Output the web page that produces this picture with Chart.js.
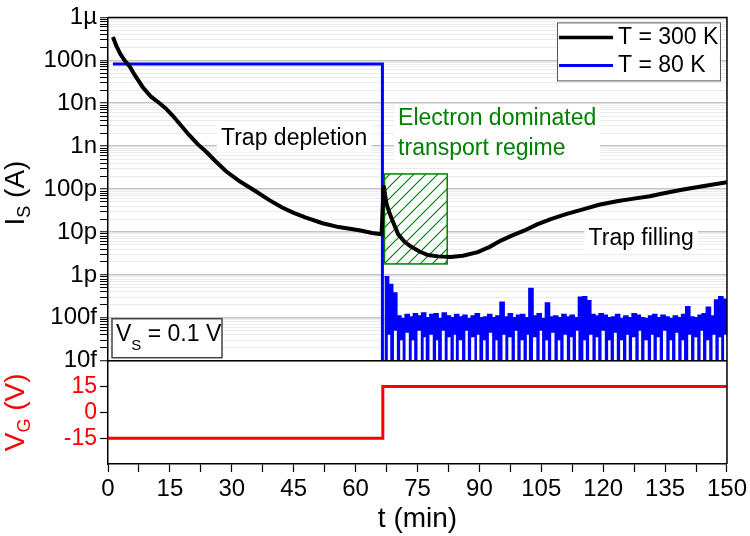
<!DOCTYPE html>
<html>
<head>
<meta charset="utf-8">
<script src="https://cdn.jsdelivr.net/npm/chart.js@4.4.0/dist/chart.umd.min.js"></script>
<style>
  html, body { margin: 0; padding: 0; background: #fff; }
  #wrap { width: 750px; height: 536px; }
</style>
</head>
<body>
<div id="wrap"><canvas id="chart" width="750" height="536"></canvas></div>
<script>
// I_S(t) at 300 K (black)
const t300 = [1.2, 2, 3, 4, 5.3, 6.5, 8.5, 10.5, 12.5, 14, 15.7, 17.5, 19.7, 21.8, 23.8, 26, 28.6, 32, 35.8, 39, 42.2, 45, 47.8, 52, 55.9, 59, 61.5, 64, 66.3,
              66.8, 67.5, 68.2, 69.2, 70.3, 71.8, 73.5, 75.5, 77.5, 80, 83.1, 86, 89.6, 92.5, 95.2, 98, 100.8, 104, 107.3, 111, 115.3, 119, 123.3, 127, 131.3, 135, 139.4, 143, 147, 150];
const is300 = [3.5e-7, 2.2e-7, 1.4e-7, 1.0e-7, 7.1e-8, 4.5e-8, 2.3e-8, 1.4e-8, 1.0e-8, 7.6e-9, 5.1e-9, 3.2e-9, 1.8e-9, 1.1e-9, 7.4e-10, 4.5e-10, 2.6e-10, 1.5e-10, 8.9e-11, 5.6e-11, 3.7e-11, 2.8e-11, 2.2e-11, 1.6e-11, 1.3e-11, 1.17e-11, 1.07e-11, 9.5e-12, 8.9e-12,
               1.2e-10, 4.5e-11, 2.8e-11, 1.6e-11, 8.9e-12, 6.0e-12, 4.5e-12, 3.5e-12, 2.9e-12, 2.7e-12, 2.6e-12, 2.8e-12, 3.4e-12, 4.5e-12, 6.3e-12, 8.3e-12, 1.07e-11, 1.5e-11, 2.0e-11, 2.6e-11, 3.4e-11, 4.3e-11, 5.2e-11, 5.9e-11, 6.8e-11, 8.1e-11, 9.8e-11, 1.12e-10, 1.29e-10, 1.45e-10];

// I_S(t) at 80 K (blue): constant level, then drop at the gate switch
const t80 = [1.2, 66.5, 66.5];
const is80 = [8.2e-8, 8.2e-8, 1e-14];

// 80 K noise after the switch: upper edge of the band
const tNoise = [67, 68, 69, 70, 71, 72, 73, 74, 75, 76, 77, 78, 79, 80, 81, 82, 83, 84, 85, 86, 87, 88, 89, 90, 91, 92, 93, 94, 95, 96, 97, 98, 99, 100,
                101, 102, 103, 104, 105, 106, 107, 108, 109, 110, 111, 112, 113, 114, 115, 116, 117, 118, 119, 120, 121, 122, 123, 124, 125, 126, 127, 128, 129, 130,
                131, 132, 133, 134, 135, 136, 137, 138, 139, 140, 141, 142, 143, 144, 145, 146, 147, 148, 149, 150];
const noiseTop = [9e-13, 6e-13, 3.8e-13, 1.1e-13, 9.5e-14, 1.2e-13, 1.05e-13, 1.25e-13, 1.1e-13, 1.3e-13, 1.0e-13, 1.2e-13, 1.25e-13, 9.5e-14, 1.3e-13, 1.1e-13, 1.0e-13, 1.2e-13, 1.05e-13, 1.15e-13,
                  9.5e-14, 1.1e-13, 1.25e-13, 1.0e-13, 1.05e-13, 1.2e-13, 1.0e-13, 1.1e-13, 2.3e-13, 1.05e-13, 1.25e-13, 1.0e-13, 1.15e-13, 1.2e-13, 1.0e-13, 4.8e-13, 1.1e-13, 1.25e-13, 9.5e-14, 2.2e-13,
                  1.05e-13, 1.1e-13, 1.0e-13, 1.2e-13, 1.05e-13, 1.15e-13, 1.0e-13, 3.0e-13, 3.1e-13, 2.5e-13, 1.2e-13, 1.1e-13, 1.25e-13, 1.15e-13, 1.0e-13, 1.05e-13, 1.2e-13, 9.5e-14, 1.1e-13, 1.0e-13,
                  1.25e-13, 1.15e-13, 1.0e-13, 9.5e-14, 1.1e-13, 1.2e-13, 1.0e-13, 1.15e-13, 1.05e-13, 9.5e-14, 1.1e-13, 1.0e-13, 1.2e-13, 1.8e-13, 1.05e-13, 1.0e-13, 1.15e-13, 1.25e-13, 1.75e-13, 1.1e-13,
                  2.6e-13, 3.1e-13, 2.7e-13, 1.4e-13];
// lower edge of the band: down at 10f, with white notches
const tNoiseLow = [67.0, 67.8, 68.4, 69.3, 70.0, 70.8, 71.4, 72.1, 72.9, 73.6, 74.2, 75.0, 75.8, 76.5, 77.0, 77.9, 78.7, 79.5, 80.0, 80.9, 81.6, 82.3, 83.0, 83.8, 84.3,
                   85.0, 85.8, 86.6, 87.2, 88.0, 88.8, 89.4, 90.0, 90.9, 91.5, 92.3, 93.1, 93.9, 94.4, 95.6, 96.3, 97.0, 97.8, 98.6, 99.2, 100.0, 100.7, 101.5, 102.0,
                   103.0, 103.8, 104.6, 105.2, 106.0, 106.6, 107.4, 108.2, 109.0, 109.6, 110.4, 111.2, 112.0, 112.6, 113.4, 114.0, 115.2, 115.8, 116.6, 117.4, 118.2, 118.8,
                   119.6, 120.4, 121.2, 121.8, 122.6, 123.3, 124.1, 124.8, 125.6, 126.2, 127.0, 127.8, 128.6, 129.2, 130.0, 130.8, 131.6, 132.2, 133.0, 133.7, 134.5, 135.3,
                   136.1, 136.7, 137.5, 138.2, 139.0, 139.6, 140.6, 141.3, 142.1, 142.8, 143.6, 144.2, 145.0, 145.7, 146.5, 147.2, 148.0, 148.6, 149.3, 150];
const noiseLow = [1e-14, 4e-14, 1e-14, 5e-14, 1e-14, 3e-14, 1e-14, 4.5e-14, 1e-14, 3e-14, 1e-14, 5e-14, 1e-14, 3.5e-14, 1e-14, 4e-14, 1e-14, 3e-14, 1e-14, 5e-14, 1e-14, 3.5e-14, 1e-14, 4e-14, 1e-14,
                  3e-14, 1e-14, 5e-14, 1e-14, 3.5e-14, 1e-14, 4e-14, 1e-14, 3e-14, 1e-14, 4.5e-14, 1e-14, 3e-14, 1e-14, 4e-14, 1e-14, 3.5e-14, 1e-14, 5e-14, 1e-14, 3e-14, 1e-14, 4e-14, 1e-14,
                  3.5e-14, 1e-14, 5e-14, 1e-14, 3e-14, 1e-14, 4.5e-14, 1e-14, 3e-14, 1e-14, 4e-14, 1e-14, 3.5e-14, 1e-14, 5e-14, 1e-14, 3e-14, 1e-14, 4e-14, 1e-14, 3.5e-14, 1e-14,
                  5e-14, 1e-14, 3e-14, 1e-14, 4.5e-14, 1e-14, 3e-14, 1e-14, 4e-14, 1e-14, 3.5e-14, 1e-14, 5e-14, 1e-14, 3e-14, 1e-14, 4e-14, 1e-14, 3.5e-14, 1e-14, 5e-14, 1e-14,
                  3e-14, 1e-14, 4.5e-14, 1e-14, 3e-14, 1e-14, 4e-14, 1e-14, 3.5e-14, 1e-14, 5e-14, 1e-14, 3e-14, 1e-14, 4e-14, 1e-14, 3.5e-14, 1e-14, 4e-14, 1e-14];

// gate voltage (red, lower panel)
const tGate = [0, 66.6, 66.6, 150];
const vGate = [-15, -15, 15, 15];

// axis ticks
const decadeLabels = ['10f', '100f', '1p', '10p', '100p', '1n', '10n', '100n', '1\u00b5'];
const vgTicks = [-15, 0, 15];

// hatched "electron dominated" window
const boxT = [67, 82.2];
const boxI = [1.8e-12, 2.25e-10];

// text notes
const notes = [
  { lines: ['Trap depletion'], t: 45.1, i: 1.5e-9, color: '#000', align: 'center' },
  { lines: ['Electron dominated', 'transport regime'], t: 70.3, i: 4.4e-9, color: '#008000', align: 'left' },
  { lines: ['Trap filling'], t: 129.2, i: 6.9e-12, color: '#000', align: 'center' }
];

const BLUE = '#0000ff';
const RED = '#ff0000';
const GREEN = '#008000';
const FONT = "'Liberation Sans', Arial, sans-serif";

function pts(xs, ys) { return xs.map((x, i) => ({ x: x, y: ys[i] })); }
function isDecade(v) { const l = Math.log10(v); return Math.abs(l - Math.round(l)) < 1e-6; }

let hatch = null;
function getHatch(ctx) {
  if (hatch) return hatch;
  const c = document.createElement('canvas');
  c.width = 12; c.height = 12;
  const g = c.getContext('2d');
  g.fillStyle = '#fff'; g.fillRect(0, 0, 12, 12);
  g.strokeStyle = GREEN; g.lineWidth = 1.2;
  g.beginPath();
  g.moveTo(-3, 15); g.lineTo(15, -3);
  g.moveTo(-3, 3); g.lineTo(3, -3);
  g.moveTo(9, 15); g.lineTo(15, 9);
  g.stroke();
  hatch = ctx.createPattern(c, 'repeat');
  return hatch;
}

// draws text with subscript, rotated -90deg, centred on (cx, cy)
function drawSubTitle(ctx, cx, cy, main, sub, rest, color) {
  ctx.save();
  ctx.translate(cx, cy);
  ctx.rotate(-Math.PI / 2);
  ctx.fillStyle = color;
  ctx.textBaseline = 'alphabetic';
  ctx.textAlign = 'left';
  const big = '28px ' + FONT, small = '18px ' + FONT;
  ctx.font = big; const w1 = ctx.measureText(main).width; const w3 = ctx.measureText(rest).width;
  ctx.font = small; const w2 = ctx.measureText(sub).width;
  let x = -(w1 + w2 + w3) / 2;
  const base = 10;
  ctx.font = big; ctx.fillText(main, x, base); x += w1;
  ctx.font = small; ctx.fillText(sub, x, base + 6); x += w2;
  ctx.font = big; ctx.fillText(rest, x, base);
  ctx.restore();
}

const extras = {
  id: 'extras',
  beforeDatasetsDraw(chart) {
    const { ctx, scales: { x, y } } = chart;
    const l = x.getPixelForValue(boxT[0]), r = x.getPixelForValue(boxT[1]);
    const top = y.getPixelForValue(boxI[1]), bot = y.getPixelForValue(boxI[0]);
    ctx.save();
    ctx.fillStyle = getHatch(ctx);
    ctx.fillRect(l, top, r - l, bot - top);
    ctx.strokeStyle = GREEN; ctx.lineWidth = 1.5;
    ctx.strokeRect(l, top, r - l, bot - top);
    ctx.restore();
  },
  afterDatasetsDraw(chart) {
    const { ctx, chartArea: a, scales: { x, y } } = chart;
    ctx.save();
    // frame and panel divider
    ctx.strokeStyle = '#000'; ctx.lineWidth = 1.5;
    ctx.beginPath();
    ctx.moveTo(a.left, a.top); ctx.lineTo(a.right, a.top); ctx.lineTo(a.right, a.bottom);
    ctx.moveTo(a.left, y.bottom); ctx.lineTo(a.right, y.bottom);
    ctx.stroke();

    // notes
    ctx.font = '23px ' + FONT;
    ctx.textBaseline = 'middle';
    notes.forEach(n => {
      const px = x.getPixelForValue(n.t), py = y.getPixelForValue(n.i);
      const lh = 30;
      const w = Math.max(...n.lines.map(s => ctx.measureText(s).width));
      const left = n.align === 'center' ? px - w / 2 : px;
      ctx.fillStyle = '#fff';
      ctx.fillRect(left - 4, py - 14, w + 8, lh * (n.lines.length - 1) + 28);
      ctx.fillStyle = n.color;
      ctx.textAlign = 'left';
      n.lines.forEach((s, k) => ctx.fillText(s, left, py + k * lh));
    });

    // legend
    const lw = 163, lhgt = 58;
    const lx = a.right - 7 - lw, ly = a.top + 5;
    ctx.fillStyle = '#fff'; ctx.fillRect(lx, ly, lw, lhgt);
    ctx.strokeStyle = '#555'; ctx.lineWidth = 1; ctx.strokeRect(lx + 0.5, ly + 0.5, lw, lhgt);
    chart.data.datasets.slice(0, 2).forEach((ds, k) => {
      const yy = ly + 15 + k * 28;
      ctx.strokeStyle = ds.borderColor; ctx.lineWidth = k === 0 ? 3.5 : 3;
      ctx.beginPath(); ctx.moveTo(lx + 2, yy); ctx.lineTo(lx + 56, yy); ctx.stroke();
      ctx.fillStyle = '#000'; ctx.textAlign = 'left';
      ctx.fillText(ds.label, lx + 61, yy);
    });

    // V_S box
    const bx = a.left + 4, by = y.bottom - 42, bw = 110, bh = 39;
    ctx.fillStyle = '#fff'; ctx.fillRect(bx, by, bw, bh);
    ctx.strokeStyle = '#444'; ctx.lineWidth = 1.5; ctx.strokeRect(bx, by, bw, bh);
    ctx.fillStyle = '#000';
    let tx = bx + 4;
    ctx.font = '23px ' + FONT; ctx.fillText('V', tx, by + 16); tx += ctx.measureText('V').width;
    ctx.font = '15px ' + FONT; ctx.fillText('S', tx, by + 27); tx += ctx.measureText('S').width;
    ctx.font = '23px ' + FONT; ctx.fillText(' = 0.1 V', tx, by + 16);
    ctx.restore();
  },
  afterDraw(chart) {
    const { ctx, scales: { y, yv } } = chart;
    drawSubTitle(ctx, 14, (y.top + y.bottom) / 2 + 4, 'I', 'S', ' (A)', '#000');
    drawSubTitle(ctx, 14, (yv.top + yv.bottom) / 2, 'V', 'G', ' (V)', RED);
  }
};

new Chart(document.getElementById('chart'), {
  type: 'line',
  data: {
    datasets: [
      { label: 'T = 300 K', data: pts(t300, is300), borderColor: '#000', borderWidth: 4, pointRadius: 0, yAxisID: 'y' },
      { label: 'T = 80 K', data: pts(t80, is80), borderColor: BLUE, borderWidth: 3, pointRadius: 0, yAxisID: 'y' },
      { label: 'noise top', data: pts(tNoise, noiseTop), borderColor: BLUE, backgroundColor: BLUE, borderWidth: 1.5, stepped: true, fill: '+1', pointRadius: 0, yAxisID: 'y' },
      { label: 'noise bottom', data: pts(tNoiseLow, noiseLow), borderColor: BLUE, borderWidth: 0, stepped: true, pointRadius: 0, yAxisID: 'y' },
      { label: 'VG', data: pts(tGate, vGate), borderColor: RED, borderWidth: 3, pointRadius: 0, yAxisID: 'yv' }
    ]
  },
  options: {
    responsive: false,
    animation: false,
    events: [],
    layout: { autoPadding: false, padding: { left: 0, right: 19, top: 10, bottom: 0 } },
    plugins: { legend: { display: false }, tooltip: { enabled: false } },
    scales: {
      x: {
        type: 'linear', min: 0, max: 150,
        border: { display: true, color: '#000', width: 1.5 },
        grid: { drawOnChartArea: false, tickLength: 8, tickColor: '#000', tickWidth: 1.2 },
        ticks: {
          stepSize: 7.5, autoSkip: false, maxRotation: 0, padding: 3, color: '#000',
          font: { family: FONT, size: 24 },
          callback: v => (v % 15 === 0 ? String(v) : '')
        },
        title: { display: true, text: 't (min)', color: '#000', font: { family: FONT, size: 28 }, padding: 0 },
        afterFit: s => { s.height = 72; }
      },
      yv: {
        type: 'linear', position: 'left', stack: 'panels', stackWeight: 105, min: -30, max: 30,
        border: { display: true, color: '#000', width: 1.5 },
        grid: { drawOnChartArea: false, tickLength: 8, tickColor: '#000', tickWidth: 1.2 },
        ticks: { autoSkip: false, color: RED, padding: 3, font: { family: FONT, size: 23 } },
        afterBuildTicks: s => { s.ticks = vgTicks.map(v => ({ value: v })); },
        afterFit: s => { s.width = 108; }
      },
      y: {
        type: 'logarithmic', position: 'left', stack: 'panels', stackWeight: 349, min: 1e-14, max: 1e-6,
        border: { display: true, color: '#000', width: 1.5 },
        grid: {
          drawOnChartArea: true, tickLength: 8, tickWidth: 1, tickColor: '#000',
          color: c => (c.tick && isDecade(c.tick.value) ? '#c4c4c4' : '#ebebeb'),
          lineWidth: c => (c.tick && isDecade(c.tick.value) ? 1.5 : 1)
        },
        ticks: {
          autoSkip: false, padding: 3, color: '#000', font: { family: FONT, size: 24 },
          callback: v => (isDecade(v) ? decadeLabels[Math.round(Math.log10(v)) + 14] : '')
        },
        afterBuildTicks: s => {
          s.ticks = s.ticks.filter(tk => {
            const m = tk.value / Math.pow(10, Math.floor(Math.log10(tk.value) + 1e-9));
            return Math.abs(m - 1.5) > 1e-6;
          });
        },
        afterFit: s => { s.width = 108; }
      }
    }
  },
  plugins: [extras]
});
</script>
</body>
</html>
